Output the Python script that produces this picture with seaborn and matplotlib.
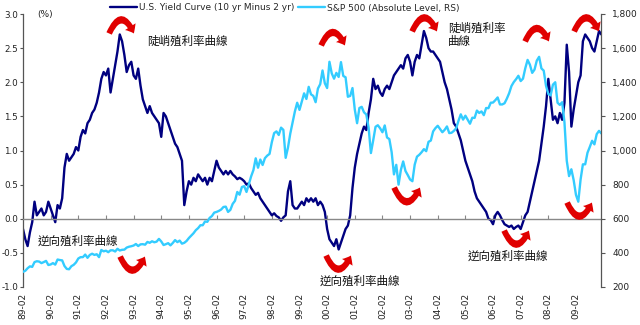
import numpy as np
import pandas as pd
import matplotlib
matplotlib.use("Agg")
import matplotlib.pyplot as plt
from matplotlib.lines import Line2D
from matplotlib.patches import FancyArrowPatch
import seaborn as sns

# ---------------- data (monthly, Feb 1989 .. Jan 2010) ----------------
start_month = "1989-02-01"
end_month = "2010-01-01"

yield_curve = [
    -0.15, -0.30, -0.40, -0.20, -0.05, 0.25, 0.05, 0.10, 0.15, 0.05, 0.10,      # 1989 Feb-Dec
    0.25, 0.15, 0.05, -0.05, 0.20, 0.15, 0.30, 0.75, 0.95, 0.85, 0.90, 0.95,    # 1990
    1.05, 1.00, 1.20, 1.30, 1.25, 1.40, 1.45, 1.55, 1.60, 1.70, 1.85, 2.05,     # 1991
    2.15, 2.10, 2.20, 1.85, 2.05, 2.25, 2.45, 2.70, 2.60, 2.40, 2.15, 2.25,     # 1992
    2.30, 2.10, 2.05, 2.20, 1.95, 1.75, 1.65, 1.55, 1.65, 1.55, 1.50, 1.45,     # 1993
    1.40, 1.20, 1.55, 1.50, 1.40, 1.30, 1.20, 1.10, 1.05, 0.95, 0.85, 0.20,     # 1994
    0.40, 0.55, 0.50, 0.60, 0.55, 0.65, 0.60, 0.55, 0.60, 0.50, 0.60, 0.55,     # 1995
    0.70, 0.85, 0.75, 0.70, 0.65, 0.70, 0.65, 0.70, 0.65, 0.62, 0.58, 0.60,     # 1996
    0.58, 0.55, 0.50, 0.52, 0.45, 0.40, 0.35, 0.38, 0.30, 0.25, 0.20, 0.15,     # 1997
    0.10, 0.05, 0.08, 0.04, 0.02, -0.03, 0.02, 0.05, 0.40, 0.55, 0.20, 0.15,    # 1998
    0.15, 0.20, 0.25, 0.20, 0.30, 0.25, 0.30, 0.25, 0.30, 0.20, 0.25, 0.20,     # 1999
    0.10, -0.15, -0.30, -0.35, -0.40, -0.30, -0.45, -0.35, -0.25, -0.15, -0.10, 0.05,  # 2000
    0.45, 0.75, 0.95, 1.10, 1.25, 1.35, 1.30, 1.55, 1.75, 2.05, 1.90, 1.95,     # 2001
    1.85, 1.80, 1.90, 1.95, 1.90, 2.00, 2.10, 2.15, 2.20, 2.25, 2.20, 2.35,     # 2002
    2.40, 2.30, 2.10, 2.30, 2.40, 2.35, 2.55, 2.75, 2.65, 2.50, 2.45, 2.45,     # 2003
    2.40, 2.35, 2.30, 2.15, 2.00, 1.90, 1.75, 1.60, 1.40, 1.35, 1.25, 1.15,     # 2004
    1.00, 0.85, 0.75, 0.65, 0.55, 0.40, 0.30, 0.25, 0.20, 0.15, 0.10, 0.00,     # 2005
    -0.02, -0.08, 0.05, 0.10, 0.05, -0.02, -0.08, -0.10, -0.12, -0.10, -0.15, -0.12,  # 2006
    -0.10, -0.15, -0.05, 0.05, 0.10, 0.25, 0.40, 0.55, 0.70, 0.85, 1.10, 1.35,  # 2007
    1.65, 2.05, 1.75, 1.45, 1.50, 1.40, 1.55, 1.45, 1.70, 2.55, 2.15, 1.35,     # 2008
    1.60, 1.80, 2.00, 2.10, 2.60, 2.70, 2.65, 2.60, 2.50, 2.45, 2.60, 2.75,     # 2009
    2.70,                                                                       # 2010 Jan
]

sp500 = [
    289, 295, 310, 321, 318, 346, 351, 349, 340, 346, 353,                      # 1989 Feb-Dec
    329, 332, 340, 331, 361, 358, 356, 323, 306, 304, 322, 330,                 # 1990
    344, 367, 375, 375, 390, 371, 388, 395, 388, 392, 375, 417,                 # 1991
    409, 413, 404, 415, 415, 408, 424, 414, 418, 419, 431, 436,                 # 1992
    439, 443, 452, 440, 450, 451, 448, 464, 459, 468, 462, 466,                 # 1993
    482, 467, 446, 451, 457, 444, 458, 475, 463, 472, 454, 459,                 # 1994
    470, 487, 501, 515, 533, 545, 562, 562, 584, 582, 605, 616,                 # 1995
    636, 640, 646, 654, 669, 671, 640, 652, 687, 705, 757, 741,                 # 1996
    786, 791, 757, 801, 848, 885, 954, 899, 947, 915, 955, 970,                 # 1997
    980, 1049, 1102, 1112, 1091, 1134, 1121, 957, 1017, 1099, 1164, 1229,      # 1998
    1280, 1238, 1286, 1335, 1302, 1373, 1329, 1320, 1283, 1363, 1389, 1469,    # 1999
    1394, 1366, 1520, 1452, 1421, 1455, 1431, 1518, 1437, 1429, 1315, 1320,    # 2000
    1366, 1240, 1160, 1249, 1256, 1224, 1211, 1134, 985, 1060, 1139, 1148,     # 2001
    1130, 1107, 1147, 1076, 1067, 990, 860, 916, 800, 886, 936, 880,           # 2002
    856, 830, 820, 917, 964, 975, 990, 1008, 996, 1051, 1058, 1112,            # 2003
    1131, 1145, 1126, 1107, 1121, 1141, 1102, 1104, 1115, 1130, 1174, 1212,    # 2004
    1181, 1204, 1181, 1157, 1192, 1191, 1234, 1220, 1229, 1207, 1249, 1248,    # 2005
    1280, 1281, 1295, 1311, 1270, 1270, 1277, 1304, 1336, 1378, 1401, 1418,    # 2006
    1438, 1407, 1421, 1482, 1531, 1503, 1455, 1474, 1527, 1549, 1481, 1468,    # 2007
    1379, 1331, 1323, 1386, 1400, 1280, 1267, 1283, 1166, 940, 850, 890,       # 2008
    826, 740, 700, 830, 919, 919, 987, 1021, 1057, 1036, 1096, 1115,           # 2009
    1100,                                                                       # 2010 Jan
]

tick_years = list(range(1989, 2010))
tick_labels = [f"{y % 100:02d}-02" for y in tick_years]
left_ticks = [-1.0, -0.5, 0.0, 0.5, 1.0, 1.5, 2.0, 2.5, 3.0]
right_ticks = [200, 400, 600, 800, 1000, 1200, 1400, 1600, 1800]

legend_labels = ["U.S. Yield Curve (10 yr Minus 2 yr)", "S&P 500 (Absolute Level, RS)"]
steep_label = "陡峭殖利率曲線"
inverted_label = "逆向殖利率曲線"

# ---------------- build frame ----------------
months = pd.date_range(start_month, end_month, freq="MS")
df = pd.DataFrame({
    "t": months.year + (months.month - 1) / 12.0,
    "yc": yield_curve,
    "sp": sp500,
})
tick_pos = [y + 1 / 12.0 for y in tick_years]

NAVY = "#000080"
CYAN = "#33ccff"
RED = "#e00000"
AXC = "#555555"

sns.set_theme(style="white")
plt.rcParams["font.family"] = ["DejaVu Sans", "Noto Sans CJK TC"]

W, H = 640, 325
fig = plt.figure(figsize=(6.4, 3.25), dpi=100)
ax = fig.add_axes([23 / W, 1 - 287 / H, (601 - 23) / W, (287 - 14) / H])
ax2 = ax.twinx()

sns.lineplot(data=df, x="t", y="yc", ax=ax, color=NAVY, lw=1.7)
sns.lineplot(data=df, x="t", y="sp", ax=ax2, color=CYAN, lw=1.7)

ax.set_xlim(1989 + 1 / 12.0, 2009 + 1 / 12.0 + 0.905)
ax.set_ylim(-1.0, 3.0)
ax2.set_ylim(200, 1800)
ax.set_xlabel("")
ax.set_ylabel("")
ax2.set_ylabel("")

# left axis
ax.set_yticks(left_ticks)
ax.set_yticklabels([f"{v:.1f}" for v in left_ticks], fontsize=6.3, color="#222222")
ax.tick_params(axis="y", direction="out", length=2.5, width=0.8, color=AXC, pad=1, left=True)
# right axis
ax2.set_yticks(right_ticks)
ax2.set_yticklabels([f"{v:,}" for v in right_ticks], fontsize=6.5, color="#222222")
ax2.tick_params(axis="y", direction="out", length=3, width=0.8, color=AXC, pad=5, right=True)

for a in (ax, ax2):
    a.spines["top"].set_visible(False)
    a.spines["left"].set_color(AXC)
    a.spines["right"].set_color(AXC)
    a.spines["left"].set_linewidth(0.9)
    a.spines["right"].set_linewidth(0.9)
ax.spines["right"].set_visible(False)
ax2.spines["left"].set_visible(False)
ax2.spines["bottom"].set_visible(False)

# x axis line at zero with inward ticks
ax.spines["bottom"].set_position(("data", 0))
ax.spines["bottom"].set_color("#888888")
ax.spines["bottom"].set_linewidth(1.0)
ax.set_xticks(tick_pos)
ax.tick_params(axis="x", direction="in", length=3, width=0.8, color="#888888",
               labelbottom=False, bottom=True)

sec = ax.secondary_xaxis(0.0)
sec.set_xticks(tick_pos)
sec.set_xticklabels(tick_labels, rotation=90, fontsize=6.5, color="#222222")
sec.tick_params(length=0, pad=4)
sec.spines["bottom"].set_visible(False)

# (%) label
fig.text(37 / W, 1 - 15 / H, "(%)", fontsize=6.5, va="center", ha="left", color="#222222")

# legend
handles = [Line2D([], [], color=NAVY, lw=1.7), Line2D([], [], color=CYAN, lw=1.7)]
fig.legend(handles, legend_labels, loc="center", bbox_to_anchor=(285 / W, 1 - 8 / H),
           ncol=2, frameon=False, fontsize=6.5, handlelength=3.0, handletextpad=0.2,
           columnspacing=0.4, borderpad=0)

# CJK annotations (pixel positions -> figure fraction)
cjk = ["Noto Sans CJK TC", "DejaVu Sans"]
def ftext(x, y, s, **kw):
    fig.text(x / W, 1 - y / H, s, fontsize=8.3, family=cjk, va="center", ha="left",
             color="#111111", **kw)

ftext(147, 41, steep_label)
ftext(448, 35, steep_label[:5] + "\n" + steep_label[5:], linespacing=1.1)
ftext(38, 241, inverted_label)
ftext(320, 281, inverted_label)
ftext(468, 256, inverted_label)

# red curved arrows: (x_start, x_end, y_base, up)
arrows = [
    (108, 135, 36, True),
    (119, 146, 254, False),
    (320, 346, 48, True),
    (325, 352, 253, False),
    (411, 438, 34, True),
    (393, 421, 185, False),
    (524, 550, 44, True),
    (503, 530, 228, False),
    (573, 600, 34, True),
    (566, 593, 200, False),
]
for x1, x2, yb, up in arrows:
    p = FancyArrowPatch((x1 / W, 1 - yb / H), (x2 / W, 1 - yb / H),
                        transform=fig.transFigure,
                        connectionstyle=f"arc3,rad={-1.2 if up else 1.2}",
                        arrowstyle="simple,head_length=0.55,head_width=0.9,tail_width=0.42",
                        mutation_scale=10, color=RED, lw=0, zorder=10)
    fig.add_artist(p)

fig.savefig("out.png", dpi=100)
